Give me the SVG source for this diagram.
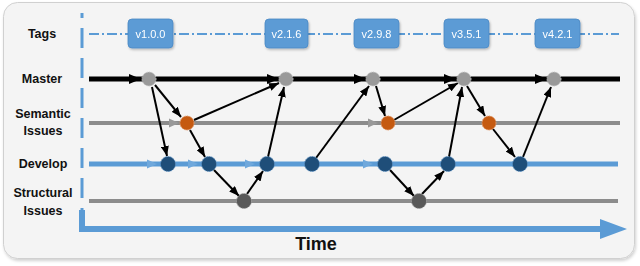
<svg xmlns="http://www.w3.org/2000/svg" width="640" height="266" viewBox="0 0 640 266">
<defs>
<filter id="sh" x="-10%" y="-10%" width="120%" height="130%">
<feDropShadow dx="1" dy="2" stdDeviation="1.5" flood-color="#000" flood-opacity="0.18"/>
</filter>
<filter id="tsh" x="-20%" y="-20%" width="140%" height="150%">
<feDropShadow dx="1" dy="1.5" stdDeviation="1" flood-color="#000" flood-opacity="0.25"/>
</filter>
<marker id="ah" markerWidth="10" markerHeight="8" refX="10" refY="4" orient="auto" markerUnits="userSpaceOnUse">
<path d="M0,0 L10,4 L0,8 Z" fill="#000"/>
</marker>
<path id="mArr" d="M-12,-5 L0,0 L-12,5 Z" fill="#000"/>
<path id="sArr" d="M-10,-4.5 L0,0 L-10,4.5 Z" fill="#999"/>
<path id="dArr" d="M-10,-4.5 L0,0 L-10,4.5 Z" fill="#6fa8dc"/>
</defs>
<style>
.lbl{font-family:"Liberation Sans",Arial,sans-serif;font-weight:bold;font-size:12.5px;fill:#111;text-anchor:middle}
.tag rect{fill:#5b9bd5;stroke:#4a89c4;stroke-width:0.8}
.tag text{font-family:"Liberation Sans",Arial,sans-serif;font-size:11px;fill:#fff;text-anchor:middle}
.m{fill:#999;stroke:#c8c8c8;stroke-width:1;stroke-dasharray:1.5 1}
.o{fill:#c55a11;stroke:#e39a6a;stroke-width:1;stroke-dasharray:1.5 1}
.d{fill:#1f4e79;stroke:#5b8fc0;stroke-width:1;stroke-dasharray:1.5 1}
.s{fill:#595959;stroke:#a0a0a0;stroke-width:1;stroke-dasharray:1.5 1}
.c{stroke:#000;stroke-width:2;fill:none;marker-end:url(#ah)}
</style>
<rect x="3.5" y="2.5" width="631" height="256" rx="14" fill="#f4f4f4" stroke="#d0d0d0" stroke-width="1" filter="url(#sh)"/>

<g id="labels">
<text class="lbl" x="42" y="38">Tags</text>
<text class="lbl" x="42" y="83">Master</text>
<text class="lbl" x="43" y="118">Semantic</text>
<text class="lbl" x="43" y="135">Issues</text>
<text class="lbl" x="43" y="168">Develop</text>
<text class="lbl" x="43" y="197">Structural</text>
<text class="lbl" x="43" y="215">Issues</text>
<text x="316" y="250" font-family="Liberation Sans, Arial, sans-serif" font-weight="bold" font-size="18" fill="#111" text-anchor="middle">Time</text>
</g>

<g id="axes">
<line x1="82" y1="13" x2="82" y2="229" stroke="#5b9bd5" stroke-width="3" stroke-dasharray="20 10" stroke-dashoffset="15"/>
<path d="M82,210 L82,229 L602,229" fill="none" stroke="#5b9bd5" stroke-width="6"/>
<path d="M600,219 L627,229 L600,239 Z" fill="#5b9bd5"/>
</g>

<g id="lanes">
<line x1="89" y1="34" x2="619" y2="34" stroke="#5b9bd5" stroke-width="2" stroke-dasharray="10 3 2 3"/>
<line x1="89" y1="79" x2="620" y2="79" stroke="#000" stroke-width="5"/>
<line x1="89" y1="123" x2="620" y2="123" stroke="#8c8c8c" stroke-width="4"/>
<line x1="89" y1="164" x2="618" y2="164" stroke="#5b9bd5" stroke-width="5"/>
<line x1="89" y1="201" x2="618" y2="201" stroke="#8c8c8c" stroke-width="4"/>
<use href="#mArr" x="141" y="79"/>
<use href="#mArr" x="279" y="79"/>
<use href="#mArr" x="366" y="79"/>
<use href="#mArr" x="456" y="79"/>
<use href="#mArr" x="547" y="79"/>
<use href="#sArr" x="179" y="123"/>
<use href="#sArr" x="378" y="123"/>
<use href="#dArr" x="157" y="164"/>
<use href="#dArr" x="198" y="164"/>
<use href="#dArr" x="255" y="164"/>
<use href="#dArr" x="373" y="164"/>
</g>

<g id="connectors">
<line class="c" x1="152" y1="87" x2="167" y2="156"/>
<line class="c" x1="155" y1="85" x2="181" y2="117"/>
<line class="c" x1="194" y1="120" x2="279" y2="83"/>
<line class="c" x1="190" y1="130" x2="205" y2="157"/>
<line class="c" x1="214" y1="170" x2="239" y2="196"/>
<line class="c" x1="247" y1="194" x2="263" y2="171"/>
<line class="c" x1="268" y1="157" x2="284" y2="87"/>
<line class="c" x1="316" y1="158" x2="369" y2="86"/>
<line class="c" x1="376" y1="86" x2="385" y2="116"/>
<line class="c" x1="394" y1="120" x2="458" y2="83"/>
<line class="c" x1="390" y1="170" x2="414" y2="196"/>
<line class="c" x1="422" y1="194" x2="444" y2="171"/>
<line class="c" x1="449" y1="157" x2="462" y2="87"/>
<line class="c" x1="467" y1="86" x2="485" y2="116"/>
<line class="c" x1="493" y1="129" x2="515" y2="157"/>
<line class="c" x1="523" y1="157" x2="551" y2="87"/>
</g>

<g id="tag-v1.0.0" class="tag" filter="url(#tsh)"><rect x="128" y="19" width="45" height="29" rx="4"/><text x="150.5" y="38">v1.0.0</text></g>
<g id="tag-v2.1.6" class="tag" filter="url(#tsh)"><rect x="265" y="19" width="43" height="29" rx="4"/><text x="286.5" y="38">v2.1.6</text></g>
<g id="tag-v2.9.8" class="tag" filter="url(#tsh)"><rect x="354" y="19" width="45" height="29" rx="4"/><text x="376.5" y="38">v2.9.8</text></g>
<g id="tag-v3.5.1" class="tag" filter="url(#tsh)"><rect x="444" y="19" width="45" height="29" rx="4"/><text x="466.5" y="38">v3.5.1</text></g>
<g id="tag-v4.2.1" class="tag" filter="url(#tsh)"><rect x="535" y="19" width="45" height="29" rx="4"/><text x="557.5" y="38">v4.2.1</text></g>

<g id="master-1"><circle class="m" cx="149" cy="79" r="7"/></g>
<g id="master-2"><circle class="m" cx="286" cy="79" r="7"/></g>
<g id="master-3"><circle class="m" cx="373" cy="79" r="7"/></g>
<g id="master-4"><circle class="m" cx="464" cy="79" r="7"/></g>
<g id="master-5"><circle class="m" cx="554" cy="79" r="7"/></g>

<g id="semantic-1"><circle class="o" cx="187" cy="123" r="7"/></g>
<g id="semantic-2"><circle class="o" cx="388" cy="123" r="7"/></g>
<g id="semantic-3"><circle class="o" cx="489" cy="123" r="7"/></g>

<g id="develop-1"><circle class="d" cx="168" cy="164" r="7.5"/></g>
<g id="develop-2"><circle class="d" cx="209" cy="164" r="7.5"/></g>
<g id="develop-3"><circle class="d" cx="267" cy="164" r="7.5"/></g>
<g id="develop-4"><circle class="d" cx="312" cy="164" r="7.5"/></g>
<g id="develop-5"><circle class="d" cx="385" cy="164" r="7.5"/></g>
<g id="develop-6"><circle class="d" cx="448" cy="164" r="7.5"/></g>
<g id="develop-7"><circle class="d" cx="520" cy="164" r="7.5"/></g>

<g id="structural-1"><circle class="s" cx="244" cy="201" r="7.5"/></g>
<g id="structural-2"><circle class="s" cx="419" cy="201" r="7.5"/></g>
</svg>
